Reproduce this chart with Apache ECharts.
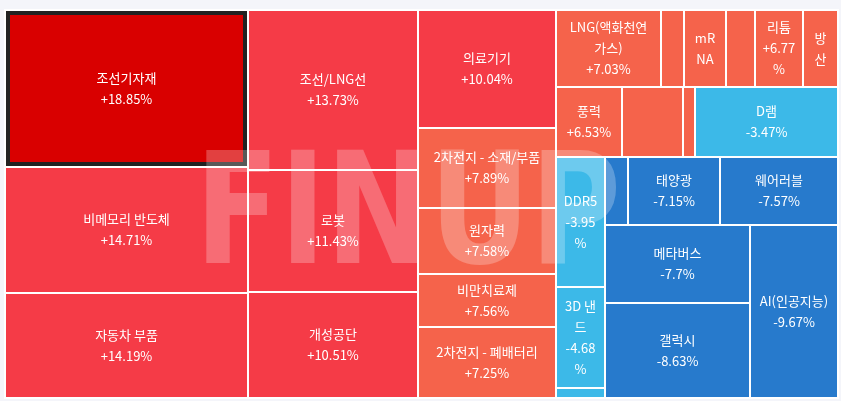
<!DOCTYPE html>
<html><head><meta charset="utf-8">
<script src="https://cdn.jsdelivr.net/npm/echarts@6/dist/echarts.min.js"></script>
<style>html,body{margin:0;padding:0;background:#f4f5fa}#c{width:841px;height:401px}</style>
</head><body><div id="c"></div>
<script>
// sector names, change (%), and estimated sizes (area weight)
const names   = ['조선기자재','비메모리 반도체','자동차 부품','조선/LNG선','로봇','개성공단',
  '의료기기','2차전지 - 소재/부품','원자력','비만치료제','2차전지 - 폐배터리',
  'LNG(액화천연가스)','','mRNA','','리튬','방산','풍력','','','D램',
  'DDR5','3D 낸드','','','태양광','웨어러블','메타버스','갤럭시','AI(인공지능)'];
const changes = [18.85,14.71,14.19,13.73,11.43,10.51,10.04,7.89,7.58,7.56,7.25,
  7.03,7.0,6.9,6.85,6.77,6.7,6.53,6.5,6.4,-3.47,
  -3.95,-4.68,-5.0,-6.5,-7.15,-7.57,-7.7,-8.63,-9.67];
const sizes   = [38151,30618,25515,27200,20740,18020,16284,11040,9108,7314,9798,
  8085,1771,3234,2233,3696,2695,4620,4270,840,10010,
  6370,4949,490,1564,6256,8024,11310,13775,15224];
// grouping: 'h' = side by side, 'v' = stacked; numbers = item index
const groupsTree = ['h',
  ['v',0,1,2], ['v',3,4,5], ['v',6,7,8,9,10],
  ['v',
    ['v',['h',11,12,13,14,15,16],['h',17,18,19,20]],
    ['h',['v',21,22,23],['v',['h',24,25,26],['h',['v',27,28],29]]]
  ]
];

function colorOf(v,i){
  if(i===0) return '#d90000';
  if(v>=10) return '#f53b47';
  if(v>0) return '#f5634b';
  if(v>-6) return '#3cb9e8';
  return '#277acc';
}
function total(n){return typeof n==='number'?sizes[n]:n.slice(1).reduce((s,c)=>s+total(c),0);}
const cells=[];
function place(n,x0,y0,x1,y1){
  if(typeof n==='number'){cells.push([x0,y0,x1,y1,n]);return;}
  const t=total(n);let p=0;
  n.slice(1).forEach(c=>{
    const f=total(c)/t;
    if(n[0]==='h'){place(c,x0+(x1-x0)*p,y0,x0+(x1-x0)*(p+f),y1);}
    else{place(c,x0,y0+(y1-y0)*p,x1,y0+(y1-y0)*(p+f));}
    p+=f;
  });
}
place(groupsTree,0,0,1,1);

const chart=echarts.init(document.getElementById('c'));
chart.setOption({
  backgroundColor:'#f4f5fa',
  grid:{left:5,top:10,right:3,bottom:3},
  xAxis:{type:'value',min:0,max:1,show:false},
  yAxis:{type:'value',min:0,max:1,inverse:true,show:false},
  graphic:[{type:'text',x:195,y:145,scaleX:0.8,z:100,silent:true,
    style:{text:'FINUP',font:'bold 155px "DejaVu Sans"',fill:'rgba(255,255,255,0.25)'}}],
  series:[{
    type:'custom',coordinateSystem:'cartesian2d',
    data:cells,
    encode:{x:[0,2],y:[1,3]},
    renderItem:(params,api)=>{
      const i=api.value(4);
      const a=api.coord([api.value(0),api.value(1)]);
      const b=api.coord([api.value(2),api.value(3)]);
      const x=a[0],y=a[1],w=b[0]-a[0],h=b[1]-a[1];
      const ch=[{type:'rect',shape:{x:x,y:y,width:w,height:h},
        style:{fill:colorOf(changes[i],i),stroke:'#fff',lineWidth:2}}];
      if(i===0) ch.push({type:'rect',shape:{x:x+3,y:y+3,width:w-6,height:h-6},
        style:{fill:'none',stroke:'#222',lineWidth:4}});
      if(names[i]!==''){
        const txt=w<45?names[i]:names[i]+'\n'+(changes[i]>0?'+':'')+changes[i]+'%';
        const pad=w<60?14:(w<100?6:18);
        ch.push({type:'text',style:{text:txt,x:x+w/2,y:y+h/2,align:'center',verticalAlign:'middle',
          width:w-pad,overflow:'breakAll',
          fill:'#fff',fontSize:13,lineHeight:21,fontFamily:'"Noto Sans CJK KR"'}});
      }
      return {type:'group',children:ch};
    }
  }]
});
</script></body></html>
